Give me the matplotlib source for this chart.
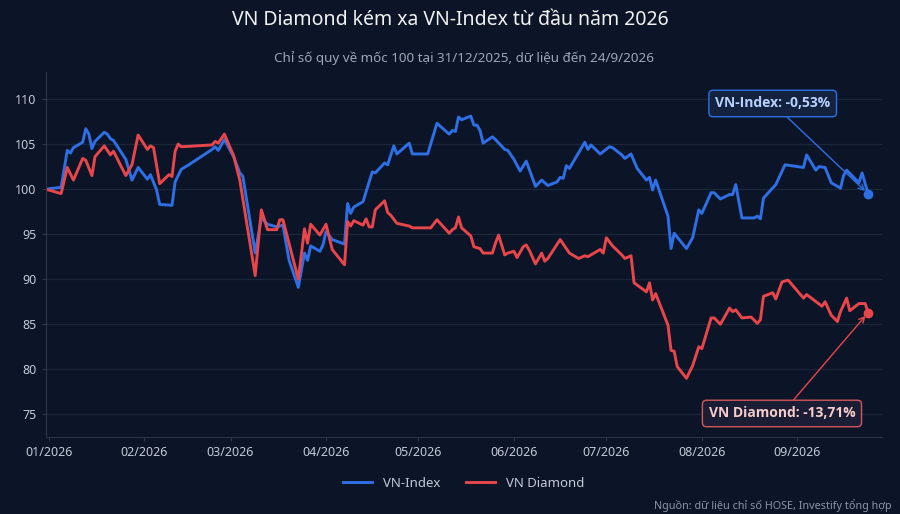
import pandas as pd
import matplotlib
matplotlib.use("Agg")
import matplotlib.pyplot as plt
import matplotlib.dates as mdates

plt.rcParams['font.family'] = ['Noto Sans', 'DejaVu Sans']

# VN-Index, quy ve 100 tai 31/12/2025
vni_dates = ['2025-12-31', '2026-01-05', '2026-01-07', '2026-01-08', '2026-01-09', '2026-01-12',
             '2026-01-13', '2026-01-14', '2026-01-15', '2026-01-16', '2026-01-19', '2026-01-20',
             '2026-01-21', '2026-01-22', '2026-01-26', '2026-01-28', '2026-01-30', '2026-02-02',
             '2026-02-03', '2026-02-05', '2026-02-06', '2026-02-10', '2026-02-11', '2026-02-13',
             '2026-02-15', '2026-02-23', '2026-02-24', '2026-02-25', '2026-02-27', '2026-03-02',
             '2026-03-04', '2026-03-05', '2026-03-09', '2026-03-11', '2026-03-13', '2026-03-16',
             '2026-03-18', '2026-03-20', '2026-03-23', '2026-03-25', '2026-03-26', '2026-03-27',
             '2026-03-30', '2026-03-31', '2026-04-01', '2026-04-03', '2026-04-07', '2026-04-08',
             '2026-04-09', '2026-04-10', '2026-04-13', '2026-04-16', '2026-04-17', '2026-04-20',
             '2026-04-21', '2026-04-23', '2026-04-24', '2026-04-28', '2026-04-29', '2026-05-04',
             '2026-05-07', '2026-05-11', '2026-05-12', '2026-05-13', '2026-05-14', '2026-05-15',
             '2026-05-18', '2026-05-19', '2026-05-20', '2026-05-21', '2026-05-22', '2026-05-25',
             '2026-05-26', '2026-05-29', '2026-05-30', '2026-06-01', '2026-06-03', '2026-06-05',
             '2026-06-08', '2026-06-10', '2026-06-12', '2026-06-15', '2026-06-16', '2026-06-17',
             '2026-06-18', '2026-06-19', '2026-06-24', '2026-06-25', '2026-06-26', '2026-06-29',
             '2026-07-02', '2026-07-03', '2026-07-06', '2026-07-07', '2026-07-09', '2026-07-11',
             '2026-07-14', '2026-07-15', '2026-07-16', '2026-07-17', '2026-07-21', '2026-07-22',
             '2026-07-23', '2026-07-27', '2026-07-29', '2026-07-31', '2026-08-01', '2026-08-04',
             '2026-08-05', '2026-08-07', '2026-08-10', '2026-08-11', '2026-08-12', '2026-08-14',
             '2026-08-18', '2026-08-19', '2026-08-20', '2026-08-21', '2026-08-25', '2026-08-28',
             '2026-09-03', '2026-09-04', '2026-09-07', '2026-09-08', '2026-09-10', '2026-09-12',
             '2026-09-15', '2026-09-16', '2026-09-17', '2026-09-21', '2026-09-22', '2026-09-24']
vni_values = [100.0, 100.2, 104.3, 104.0, 104.6, 105.2,
              106.7, 106.1, 104.5, 105.3, 106.3, 106.1,
              105.6, 105.4, 103.3, 101.0, 102.4, 101.1,
              101.6, 99.9, 98.3, 98.2, 100.8, 102.2,
              102.6, 104.4, 104.7, 104.3, 105.5, 103.6,
              101.8, 101.4, 92.9, 96.8, 96.1, 95.8,
              96.0, 92.1, 89.1, 92.9, 92.1, 93.7,
              93.1, 93.8, 95.3, 94.4, 93.9, 98.4,
              97.3, 98.0, 98.6, 101.9, 101.8, 102.9,
              102.7, 104.8, 103.9, 105.1, 103.9, 103.9,
              107.3, 106.1, 106.5, 106.4, 108.0, 107.7,
              108.1, 107.1, 107.1, 106.5, 105.1, 105.8,
              105.5, 104.4, 104.3, 103.3, 102.0, 103.1,
              100.3, 101.0, 100.4, 100.8, 101.3, 101.2,
              102.6, 102.3, 105.2, 104.4, 104.9, 103.9,
              104.7, 104.6, 103.8, 103.4, 103.9, 102.3,
              101.0, 101.3, 99.9, 101.0, 97.0, 93.4,
              95.1, 93.4, 94.6, 97.7, 97.3, 99.6,
              99.6, 98.9, 99.4, 99.4, 100.5, 96.8,
              96.8, 97.0, 96.7, 99.0, 100.5, 102.7,
              102.4, 103.8, 102.1, 102.5, 102.4, 100.7,
              100.1, 101.5, 102.1, 100.7, 101.8, 99.47]

# VN Diamond, quy ve 100 tai 31/12/2025
vnd_dates = ['2025-12-31', '2026-01-05', '2026-01-07', '2026-01-09', '2026-01-12', '2026-01-13',
             '2026-01-15', '2026-01-16', '2026-01-19', '2026-01-21', '2026-01-22', '2026-01-26',
             '2026-01-28', '2026-01-30', '2026-02-02', '2026-02-03', '2026-02-04', '2026-02-06',
             '2026-02-09', '2026-02-10', '2026-02-11', '2026-02-12', '2026-02-13', '2026-02-23',
             '2026-02-24', '2026-02-25', '2026-02-27', '2026-03-02', '2026-03-04', '2026-03-09',
             '2026-03-11', '2026-03-13', '2026-03-16', '2026-03-17', '2026-03-18', '2026-03-23',
             '2026-03-25', '2026-03-26', '2026-03-27', '2026-03-30', '2026-04-01', '2026-04-03',
             '2026-04-07', '2026-04-08', '2026-04-09', '2026-04-10', '2026-04-13', '2026-04-14',
             '2026-04-15', '2026-04-16', '2026-04-17', '2026-04-20', '2026-04-21', '2026-04-22',
             '2026-04-24', '2026-04-28', '2026-04-29', '2026-05-05', '2026-05-07', '2026-05-11',
             '2026-05-12', '2026-05-13', '2026-05-14', '2026-05-15', '2026-05-18', '2026-05-19',
             '2026-05-21', '2026-05-22', '2026-05-25', '2026-05-26', '2026-05-27', '2026-05-29',
             '2026-05-30', '2026-06-01', '2026-06-02', '2026-06-04', '2026-06-05', '2026-06-06',
             '2026-06-08', '2026-06-10', '2026-06-11', '2026-06-12', '2026-06-16', '2026-06-19',
             '2026-06-22', '2026-06-24', '2026-06-25', '2026-06-29', '2026-06-30', '2026-07-01',
             '2026-07-03', '2026-07-06', '2026-07-07', '2026-07-09', '2026-07-10', '2026-07-14',
             '2026-07-15', '2026-07-16', '2026-07-17', '2026-07-21', '2026-07-22', '2026-07-23',
             '2026-07-24', '2026-07-27', '2026-07-29', '2026-07-31', '2026-08-01', '2026-08-04',
             '2026-08-05', '2026-08-07', '2026-08-10', '2026-08-11', '2026-08-12', '2026-08-14',
             '2026-08-17', '2026-08-19', '2026-08-20', '2026-08-21', '2026-08-24', '2026-08-25',
             '2026-08-27', '2026-08-29', '2026-09-03', '2026-09-04', '2026-09-09', '2026-09-10',
             '2026-09-12', '2026-09-14', '2026-09-15', '2026-09-17', '2026-09-18', '2026-09-21',
             '2026-09-23', '2026-09-24']
vnd_values = [100.0, 99.5, 102.4, 101.0, 103.4, 103.2,
              101.5, 103.6, 104.8, 103.8, 104.2, 101.5,
              102.7, 106.0, 104.4, 104.8, 104.6, 100.6,
              101.6, 101.4, 104.2, 105.0, 104.7, 104.9,
              105.3, 105.1, 106.1, 103.7, 101.0, 90.4,
              97.7, 95.5, 95.5, 96.6, 96.6, 90.0,
              95.6, 94.0, 96.1, 94.9, 96.1, 93.3,
              91.6, 96.4, 95.9, 96.5, 96.0, 96.7,
              95.8, 95.8, 97.7, 98.7, 97.4, 97.1,
              96.2, 95.9, 95.7, 95.7, 96.6, 95.1,
              95.5, 95.7, 96.9, 95.7, 94.8, 93.6,
              93.4, 92.9, 92.9, 94.0, 94.9, 92.7,
              92.9, 93.1, 92.4, 93.6, 93.8, 93.2,
              91.7, 92.9, 92.0, 92.3, 94.4, 92.9,
              92.3, 92.6, 92.5, 93.3, 92.9, 94.6,
              93.7, 92.7, 92.3, 92.6, 89.6, 88.6,
              89.6, 87.7, 88.4, 84.9, 82.1, 82.0,
              80.3, 79.0, 80.4, 82.5, 82.3, 85.7,
              85.7, 85.0, 86.8, 86.4, 86.6, 85.7,
              85.8, 85.1, 85.5, 88.1, 88.5, 87.8,
              89.7, 89.9, 87.9, 88.3, 87.0, 87.5,
              86.0, 85.3, 86.4, 87.9, 86.5, 87.3,
              87.3, 86.29]

title = 'VN Diamond kém xa VN-Index từ đầu năm 2026'
subtitle = 'Chỉ số quy về mốc 100 tại 31/12/2025, dữ liệu đến 24/9/2026'
source = 'Nguồn: dữ liệu chỉ số HOSE, Investify tổng hợp'
y_ticks = [75, 80, 85, 90, 95, 100, 105, 110]

bg = '#0b1527'
blue = '#2f6fe6'
red = '#e8464b'

vni_x = pd.to_datetime(vni_dates)
vnd_x = pd.to_datetime(vnd_dates)

fig = plt.figure(figsize=(9, 5.14), dpi=100, facecolor=bg)
ax = fig.add_axes([0.0508, 0.15, 0.929, 0.71])
ax.set_facecolor(bg)

ax.plot(vni_x, vni_values, color=blue, lw=2.1, label='VN-Index', solid_joinstyle='round')
ax.plot(vnd_x, vnd_values, color=red, lw=2.1, label='VN Diamond', solid_joinstyle='round')
ax.plot(vni_x[-1], vni_values[-1], 'o', color=blue, ms=6)
ax.plot(vnd_x[-1], vnd_values[-1], 'o', color=red, ms=6)

ax.set_xlim(pd.Timestamp('2025-12-31'), pd.Timestamp('2026-09-28 10:00'))
ax.set_ylim(72.5, 113)
ax.set_yticks(y_ticks)
ax.xaxis.set_major_locator(mdates.MonthLocator())
ax.xaxis.set_major_formatter(mdates.DateFormatter('%m/%Y'))

ax.grid(axis='y', color='#1b2739', lw=0.9)
ax.set_axisbelow(True)
for s in ['top', 'right']:
    ax.spines[s].set_visible(False)
for s in ['left', 'bottom']:
    ax.spines[s].set_color('#2b3749')
ax.tick_params(colors='#2b3749', labelcolor='#c3cad6', labelsize=9, length=3)

# chu thich gia tri cuoi
pct_vni = (vni_values[-1] - 100)
pct_vnd = (vnd_values[-1] - 100)
ax.annotate(f'VN-Index: {pct_vni:.2f}%'.replace('.', ','),
            xy=(vni_x[-1], vni_values[-1]), xytext=(pd.Timestamp('2026-08-24'), 109.5),
            ha='center', va='center', fontsize=10, fontweight='bold', color='#b9d1ff',
            family=['Open Sans', 'DejaVu Sans'],
            bbox=dict(boxstyle='round,pad=0.45,rounding_size=0.3', fc='#12223f', ec=blue, lw=1),
            arrowprops=dict(arrowstyle='->', color=blue, lw=1, shrinkA=0, shrinkB=3))
ax.annotate(f'VN Diamond: {pct_vnd:.2f}%'.replace('.', ','),
            xy=(vnd_x[-1], vnd_values[-1]), xytext=(pd.Timestamp('2026-08-27'), 75.1),
            ha='center', va='center', fontsize=10, fontweight='bold', color='#f6cccc',
            family=['Open Sans', 'DejaVu Sans'],
            bbox=dict(boxstyle='round,pad=0.45,rounding_size=0.3', fc='#1a1d33', ec='#d5565c', lw=1),
            arrowprops=dict(arrowstyle='->', color=red, lw=1, shrinkA=0, shrinkB=3))

leg = ax.legend(loc='center', bbox_to_anchor=(0.5, -0.128), ncol=2, frameon=False,
                fontsize=9.5, handlelength=2.2, columnspacing=2.0, labelcolor='#c3cad6')

fig.text(0.5, 0.961, title, ha='center', va='center', fontsize=14, color='#f2f2f2')
fig.text(0.5155, 0.887, subtitle, ha='center', va='center', fontsize=9.7, color='#9ea7b4')
fig.text(0.991, 0.016, source, ha='right', va='center', fontsize=7.8, color='#8a94a3')

fig.savefig('out.png', dpi=100, facecolor=bg)
